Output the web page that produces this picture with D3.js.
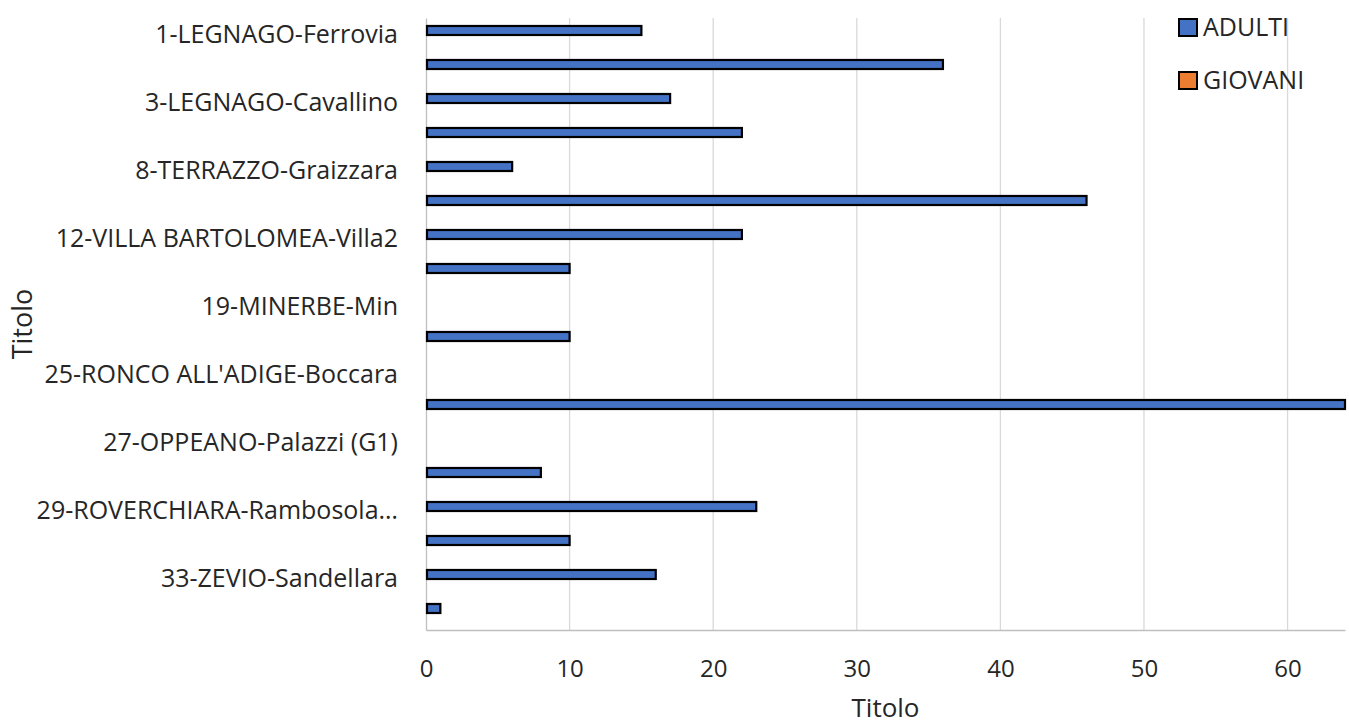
<!DOCTYPE html>
<html>
<head>
<meta charset="utf-8">
<script src="https://cdn.jsdelivr.net/npm/d3@7"></script>
<style>
  body { margin: 0; background: #fff; }
  text { font-family: "Segoe UI", "Open Sans", sans-serif; fill: #262626; }
</style>
</head>
<body>
<div id="viz"></div>
<script>
// categories (only every second one gets a visible label, as in the original)
const stations = [
  "1-LEGNAGO-Ferrovia", "2-LEGNAGO", "3-LEGNAGO-Cavallino", "5-TERRAZZO",
  "8-TERRAZZO-Graizzara", "10-VILLA BARTOLOMEA", "12-VILLA BARTOLOMEA-Villa2", "15-MINERBE",
  "19-MINERBE-Min", "22-RONCO ALL'ADIGE", "25-RONCO ALL'ADIGE-Boccara", "26-OPPEANO",
  "27-OPPEANO-Palazzi (G1)", "28-ROVERCHIARA", "29-ROVERCHIARA-Rambosola…", "31-ZEVIO",
  "33-ZEVIO-Sandellara", "35-ZEVIO"
];
const adulti  = [15, 36, 17, 22, 6, 46, 22, 10, 0, 10, 0, 64, 0, 8, 23, 10, 16, 1];
const giovani = [0, 0, 0, 0, 0, 0, 0, 0, 0, 0, 0, 0, 0, 0, 0, 0, 0, 0];
const seriesNames = ["ADULTI", "GIOVANI"];
const seriesColors = ["#4472C4", "#ED7D31"];
const xTicks = [0, 10, 20, 30, 40, 50, 60];

const width = 1349, height = 727;
const margin = {top: 18, right: 4, bottom: 97, left: 426};

const svg = d3.select("#viz").append("svg")
  .attr("width", width)
  .attr("height", height);

const x = d3.scaleLinear().domain([0, 64]).range([margin.left, width - margin.right]);
const y = d3.scaleBand().domain(stations).range([margin.top, height - margin.bottom]);
//two bars per category, each about a quarter of the band
const ySub = d3.scaleBand().domain(seriesNames)
  .range([0, y.bandwidth() * 0.53])
  .paddingInner(0);
const subOffset = (y.bandwidth() - ySub.range()[1]) / 2;

//vertical gridlines
svg.append("g")
  .selectAll("line")
  .data(xTicks.slice(1))
  .join("line")
  .attr("x1", d => x(d)).attr("x2", d => x(d))
  .attr("y1", margin.top).attr("y2", height - margin.bottom)
  .attr("stroke", "#d9d9d9")
  .attr("stroke-width", 1.3);

//x axis
const xAxis = svg.append("g")
  .attr("transform", `translate(0,${height - margin.bottom})`)
  .call(d3.axisBottom(x).tickValues(xTicks).tickSize(0).tickPadding(30));
xAxis.select(".domain").attr("stroke", "#bfbfbf").attr("stroke-width", 1.3);
xAxis.selectAll("text").style("font-size", "24px").attr("fill", "#262626");

//y axis
const yAxis = svg.append("g")
  .attr("transform", `translate(${margin.left},0)`)
  .call(d3.axisLeft(y).tickSize(0).tickPadding(28)
    .tickFormat((d, i) => i % 2 === 0 ? d : ""));
yAxis.select(".domain").attr("stroke", "#bfbfbf").attr("stroke-width", 1.3);
yAxis.selectAll("text").style("font-size", "25px").attr("fill", "#262626");

//bars
const rows = stations.map((s, i) => ({station: s, values: [adulti[i], giovani[i]]}));
svg.append("g")
  .selectAll("g")
  .data(rows)
  .join("g")
  .attr("transform", d => `translate(0,${y(d.station) + subOffset})`)
  .selectAll("rect")
  .data(d => d.values.map((v, j) => ({series: seriesNames[j], value: v, color: seriesColors[j]})))
  .join("rect")
  .filter(d => d.value > 0)
  .attr("x", x(0) + 1)
  .attr("y", d => ySub(d.series))
  .attr("width", d => x(d.value) - x(0) - 1)
  .attr("height", ySub.bandwidth())
  .attr("fill", d => d.color)
  .attr("stroke", "#000")
  .attr("stroke-width", 2.2);

//legend
const legend = svg.append("g")
  .selectAll("g")
  .data(seriesNames)
  .join("g")
  .attr("transform", (d, i) => `translate(1179,${19 + i * 53})`);
legend.append("rect")
  .attr("width", 18).attr("height", 17)
  .attr("fill", (d, i) => seriesColors[i])
  .attr("stroke", "#000")
  .attr("stroke-width", 2);
legend.append("text")
  .attr("x", 24).attr("y", 8)
  .attr("dy", "0.35em")
  .style("font-size", "25px")
  .text(d => d);

//axis titles
svg.append("text")
  .attr("x", (margin.left + width - margin.right) / 2)
  .attr("y", 708)
  .attr("text-anchor", "middle")
  .attr("dy", "0.35em")
  .style("font-size", "26px")
  .text("Titolo");

svg.append("text")
  .attr("transform", `translate(23,${(margin.top + height - margin.bottom) / 2}) rotate(-90)`)
  .attr("text-anchor", "middle")
  .attr("dy", "0.35em")
  .style("font-size", "27px")
  .text("Titolo");
</script>
</body>
</html>
